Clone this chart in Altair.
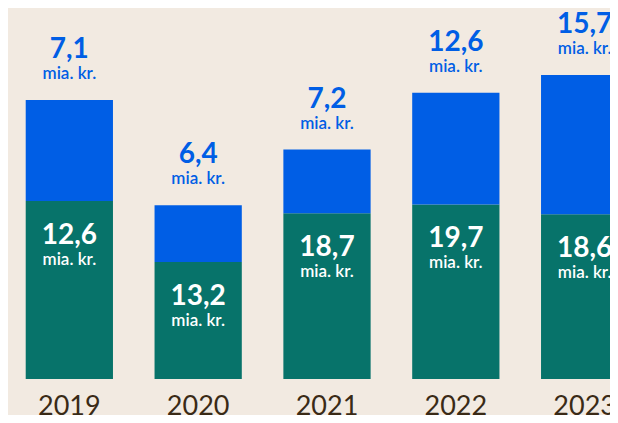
import altair as alt
import pandas as pd

# Data
years = ["2019", "2020", "2021", "2022", "2023"]
# printed labels (mia. kr.)
green_labels = ["12,6", "13,2", "18,7", "19,7", "18,6"]
blue_labels = ["7,1", "6,4", "7,2", "12,6", "15,7"]
# bar lengths as drawn in the picture (2019 is drawn taller than its label)
green_values = [20.1, 13.2, 18.7, 19.7, 18.6]
blue_values = [11.4, 6.4, 7.2, 12.6, 15.7]
unit_text = "mia. kr."

BG = "#F2EAE1"
GREEN = "#07736A"
BLUE = "#005EE5"
FONT = "Lato"

df = pd.DataFrame({
    "year": years,
    "green": green_values,
    "blue": blue_values,
    "glab": green_labels,
    "blab": blue_labels,
})
df["total"] = df["green"] + df["blue"]
df["unit"] = unit_text

x = alt.X(
    "year:N",
    sort=years,
    title=None,
    scale=alt.Scale(paddingInner=0.3227, paddingOuter=0.1375, range=[0, 638]),
    axis=alt.Axis(
        domain=False, ticks=False, tickSize=0, grid=False,
        labelAngle=0, labelFont=FONT, labelFontSize=27, labelColor="#3A2A16",
        labelPadding=35, labelBaseline="alphabetic",
    ),
)
yscale = alt.Scale(domain=[0, 41.87], nice=False, zero=True)

base = alt.Chart(df)

green_bar = base.mark_bar(color=GREEN, cornerRadius=0).encode(
    x=x,
    y=alt.Y("green:Q", scale=yscale, axis=None),
    y2=alt.datum(0),
)
blue_bar = base.mark_bar(color=BLUE, cornerRadius=0).encode(
    x=x,
    y=alt.Y("total:Q", scale=yscale, axis=None),
    y2="green:Q",
)

blue_val = base.mark_text(
    font=FONT, fontSize=28, fontWeight="bold", color=BLUE,
    baseline="alphabetic", dy=-42,
).encode(x=x, y=alt.Y("total:Q", scale=yscale, axis=None), text="blab:N")
blue_unit = base.mark_text(
    font=FONT, fontSize=17, fontWeight=600, color=BLUE,
    baseline="alphabetic", dy=-21,
).encode(x=x, y=alt.Y("total:Q", scale=yscale, axis=None), text="unit:N")

green_val = base.mark_text(
    font=FONT, fontSize=28, fontWeight="bold", color="white",
    baseline="alphabetic", dy=43,
).encode(x=x, y=alt.Y("green:Q", scale=yscale, axis=None), text="glab:N")
green_unit = base.mark_text(
    font=FONT, fontSize=17, fontWeight=600, color="white",
    baseline="alphabetic", dy=64,
).encode(x=x, y=alt.Y("green:Q", scale=yscale, axis=None), text="unit:N")

chart = (
    alt.layer(green_bar, blue_bar, blue_val, blue_unit, green_val, green_unit)
    .properties(
        width=602,
        height=371,
        background=BG,
        padding={"left": 0, "top": 0, "right": 0, "bottom": 36},
        autosize=alt.AutoSizeParams(type="none"),
    )
    .configure_view(stroke=None)
)

chart.save("out.html", embed_options={"renderer": "svg", "actions": False})
